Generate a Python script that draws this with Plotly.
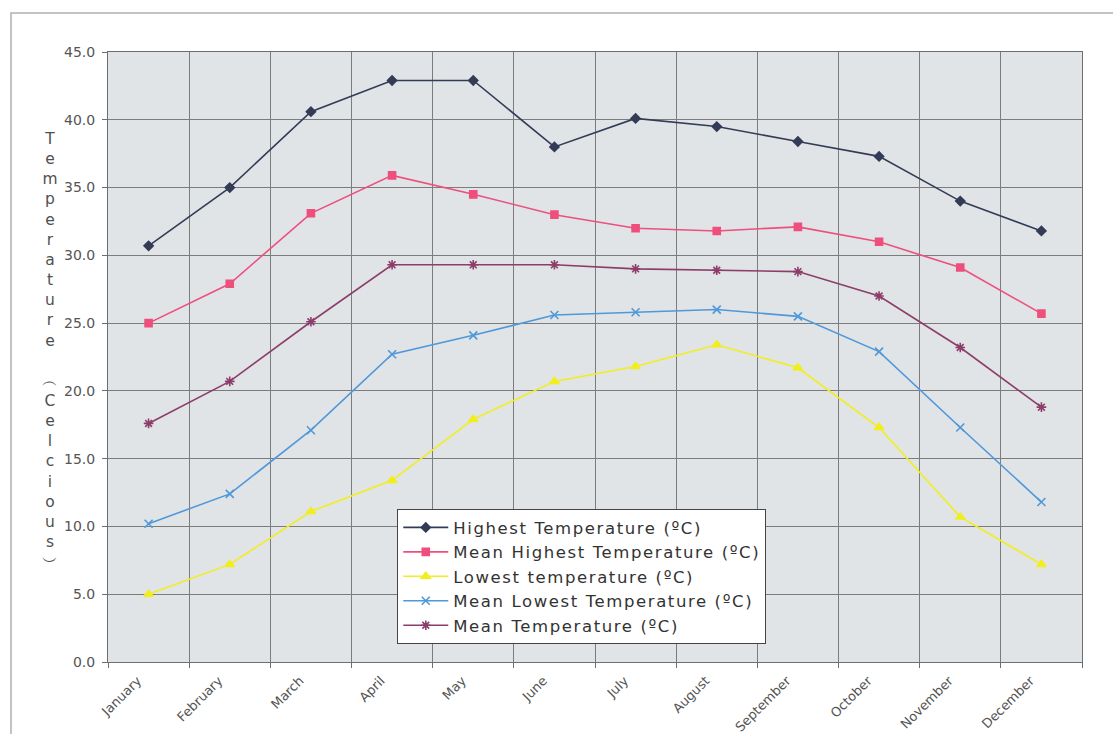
import plotly.graph_objects as go

# Monthly temperature statistics (°C)
months = ["January", "February", "March", "April", "May", "June",
          "July", "August", "September", "October", "November", "December"]

highest = [30.7, 35.0, 40.6, 42.9, 42.9, 38.0, 40.1, 39.5, 38.4, 37.3, 34.0, 31.8]
mean_highest = [25.0, 27.9, 33.1, 35.9, 34.5, 33.0, 32.0, 31.8, 32.1, 31.0, 29.1, 25.7]
lowest = [5.0, 7.2, 11.1, 13.4, 17.9, 20.7, 21.8, 23.4, 21.7, 17.3, 10.7, 7.2]
mean_lowest = [10.2, 12.4, 17.1, 22.7, 24.1, 25.6, 25.8, 26.0, 25.5, 22.9, 17.3, 11.8]
mean_temp = [17.6, 20.7, 25.1, 29.3, 29.3, 29.3, 29.0, 28.9, 28.8, 27.0, 23.2, 18.8]

y_ticks = [0, 5, 10, 15, 20, 25, 30, 35, 40, 45]

series = [
    ("Highest Temperature (ºC)", highest, "#343b57", "diamond", 7),
    ("Mean Highest Temperature (ºC)", mean_highest, "#ee4f7c", "square", 7),
    ("Lowest temperature (ºC)", lowest, "#f2ee1e", "triangle-up", 8),
    ("Mean Lowest Temperature (ºC)", mean_lowest, "#4f98da", "x-thin-open", 8),
    ("Mean Temperature (ºC)", mean_temp, "#8d3d6b", "asterisk-open", 8),
]

FONT = "DejaVu Sans, Arial, sans-serif"
LEGEND_SPACING = "letter-spacing:1.6px"

fig = go.Figure()
for name, vals, color, symbol, size in series:
    fig.add_trace(go.Scatter(
        x=months, y=vals,
        name=f'<span style="{LEGEND_SPACING}">{name}</span>',
        mode="lines+markers",
        line=dict(color=color, width=1.6),
        marker=dict(symbol=symbol, size=size, color=color,
                    line=dict(color=color, width=1.6)),
    ))

# Stacked vertical axis title
title_chars = list("Temperature") + [" ", "︵"] + list("Celcious") + ["︶"]
fig.add_annotation(
    text="<br>".join(title_chars), xref="paper", yref="paper",
    x=-0.0595, y=0.51, xanchor="center", yanchor="middle",
    showarrow=False, align="center",
    font=dict(family=FONT, size=15.5, color="#505050"),
)

# Outer frame of the chart
fig.add_shape(type="rect", xref="paper", yref="paper",
              x0=-0.0996, x1=1.04, y0=-0.2, y1=1.064,
              line=dict(color="#b0b0b0", width=1.5), fillcolor="rgba(0,0,0,0)",
              layer="below")

fig.update_layout(
    width=1113, height=734,
    margin=dict(l=108, r=31, t=52, b=72),
    paper_bgcolor="white",
    plot_bgcolor="#e0e4e6",
    font=dict(family=FONT, color="#555555"),
    showlegend=True,
    legend=dict(
        x=0.297, y=0.2505, xanchor="left", yanchor="top",
        bgcolor="white", bordercolor="#444444", borderwidth=1,
        font=dict(family=FONT, size=16.5, color="#333333"),
        tracegroupgap=0, itemwidth=45,
    ),
    xaxis=dict(
        type="category", tickson="boundaries", tickangle=-45,
        showgrid=True, gridcolor="#7c7c7c", gridwidth=1,
        showline=True, linecolor="#6e6e6e", linewidth=1, mirror=True,
        ticks="outside", ticklen=5, tickcolor="#6e6e6e",
        ticklabelshift=-11, ticklabelstandoff=5,
        tickfont=dict(family=FONT, size=13, color="#555555"),
        range=[-0.5, 11.5], fixedrange=True, automargin=False,
    ),
    yaxis=dict(
        range=[0, 45], tickvals=y_ticks, tickformat=".1f",
        showgrid=True, gridcolor="#7c7c7c", gridwidth=1,
        showline=True, linecolor="#6e6e6e", linewidth=1, mirror=True,
        ticks="outside", ticklen=5, tickcolor="#6e6e6e",
        ticklabelstandoff=4, automargin=False,
        tickfont=dict(family=FONT, size=14, color="#555555"),
        zeroline=False,
    ),
)

fig.write_html("out.html")
